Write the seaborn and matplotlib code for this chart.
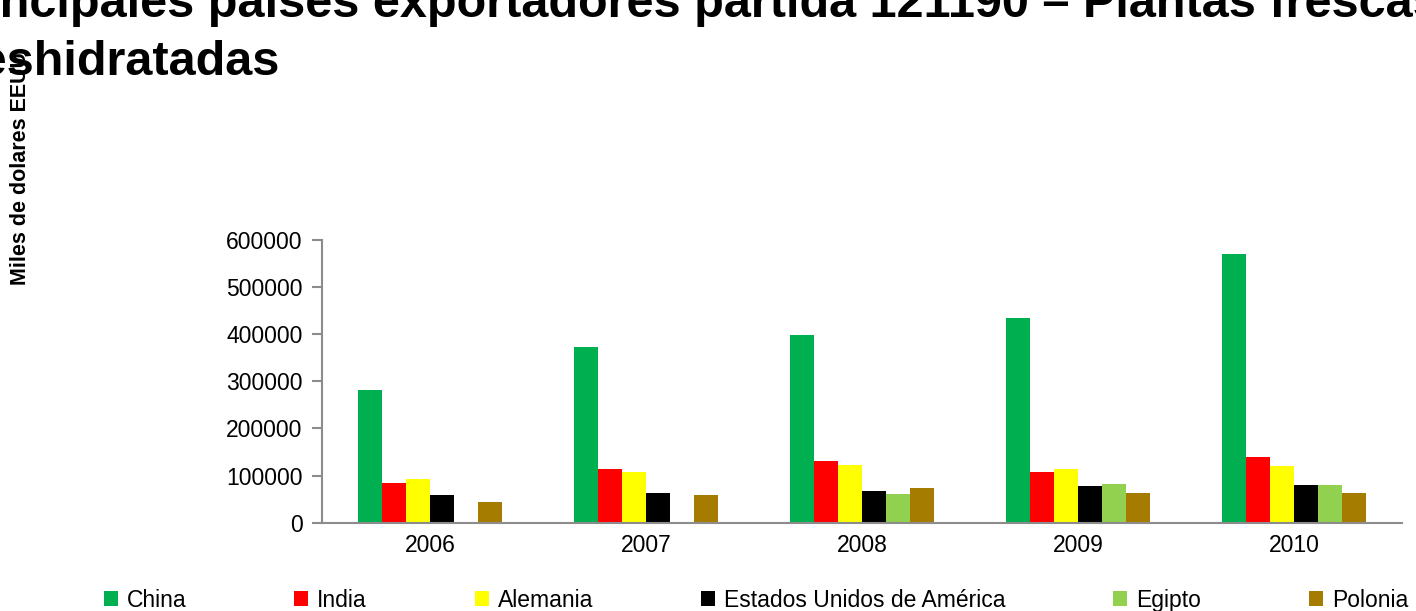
import matplotlib
matplotlib.use("Agg")
import matplotlib.pyplot as plt
from matplotlib.patches import Patch
import seaborn as sns
import pandas as pd

years = ["2006", "2007", "2008", "2009", "2010"]
countries = ["China", "India", "Alemania", "Estados Unidos de América", "Egipto", "Polonia"]
china = [282000, 373000, 398000, 434000, 570000]
india = [85000, 113000, 132000, 107000, 140000]
alemania = [93000, 107000, 122000, 114000, 120000]
eeuu = [58000, 63000, 67000, 78000, 80000]
egipto = [0, 0, 61000, 82000, 81000]
polonia = [45000, 58000, 74000, 63000, 64000]
colors = ["#00B050", "#FF0000", "#FFFF00", "#000000", "#92D050", "#A67C00"]

title_line1 = "Principales países exportadores partida 121190 – Plantas frescas"
title_line2 = "deshidratadas"
ylabel = "Miles de dolares EEUU"
yticks = [0, 100000, 200000, 300000, 400000, 500000, 600000]

series = [china, india, alemania, eeuu, egipto, polonia]
rows = []
for c, vals in zip(countries, series):
    for y, v in zip(years, vals):
        rows.append({"Año": y, "País": c, "Valor": v})
df = pd.DataFrame(rows)

sns.set_style("white")
plt.rcParams["font.family"] = ["Liberation Sans", "DejaVu Sans"]
plt.rcParams["text.color"] = "black"
plt.rcParams["axes.labelcolor"] = "black"
plt.rcParams["xtick.color"] = "black"
plt.rcParams["ytick.color"] = "black"

fig = plt.figure(figsize=(14.16, 6.11), dpi=100)
ax = fig.add_axes([0.2274, 0.1445, 0.7627, 0.4627])

sns.barplot(data=df, x="Año", y="Valor", hue="País", hue_order=countries,
            order=years, palette=colors, width=0.67, linewidth=0,
            saturation=1, ax=ax, legend=False)

ax.set_ylim(0, 600000)
ax.set_xlim(-0.5, 4.5)
ax.set_yticks(yticks)
ax.set_yticklabels([str(t) for t in yticks])
ax.set_xlabel("")
ax.set_ylabel("")

for s in ["top", "right"]:
    ax.spines[s].set_visible(False)
for s in ["left", "bottom"]:
    ax.spines[s].set_color("#8c8c8c")
    ax.spines[s].set_linewidth(1.5)

ax.tick_params(axis="y", which="both", left=True, length=7, width=1.5,
               color="#8c8c8c", pad=7, labelsize=16.5, labelcolor="black")
ax.tick_params(axis="x", which="both", bottom=False, length=0, pad=8,
               labelsize=16.5, labelcolor="black")

fig.text(-65 / 1416, 1 - 17 / 611, title_line1, fontsize=35, fontweight="bold",
         ha="left", va="baseline", color="black")
fig.text(-50 / 1416, 1 - 75 / 611, title_line2, fontsize=35, fontweight="bold",
         ha="left", va="baseline", color="black")

fig.text(21 / 1416, 1 - 285 / 611, ylabel, rotation=90, fontsize=15.5,
         fontweight="bold", ha="center", va="bottom", color="black")

handles = [Patch(facecolor=c, edgecolor="none") for c in colors]
fig.legend(handles, countries, loc="center", ncol=6, mode="expand",
           bbox_to_anchor=(104 / 1416, 0.0, 1304 / 1416, 0.036),
           frameon=False, fontsize=16.5, handlelength=0.6, handleheight=0.6,
           handletextpad=0.4, borderaxespad=0, borderpad=0)

fig.savefig("out.png", dpi=100)
